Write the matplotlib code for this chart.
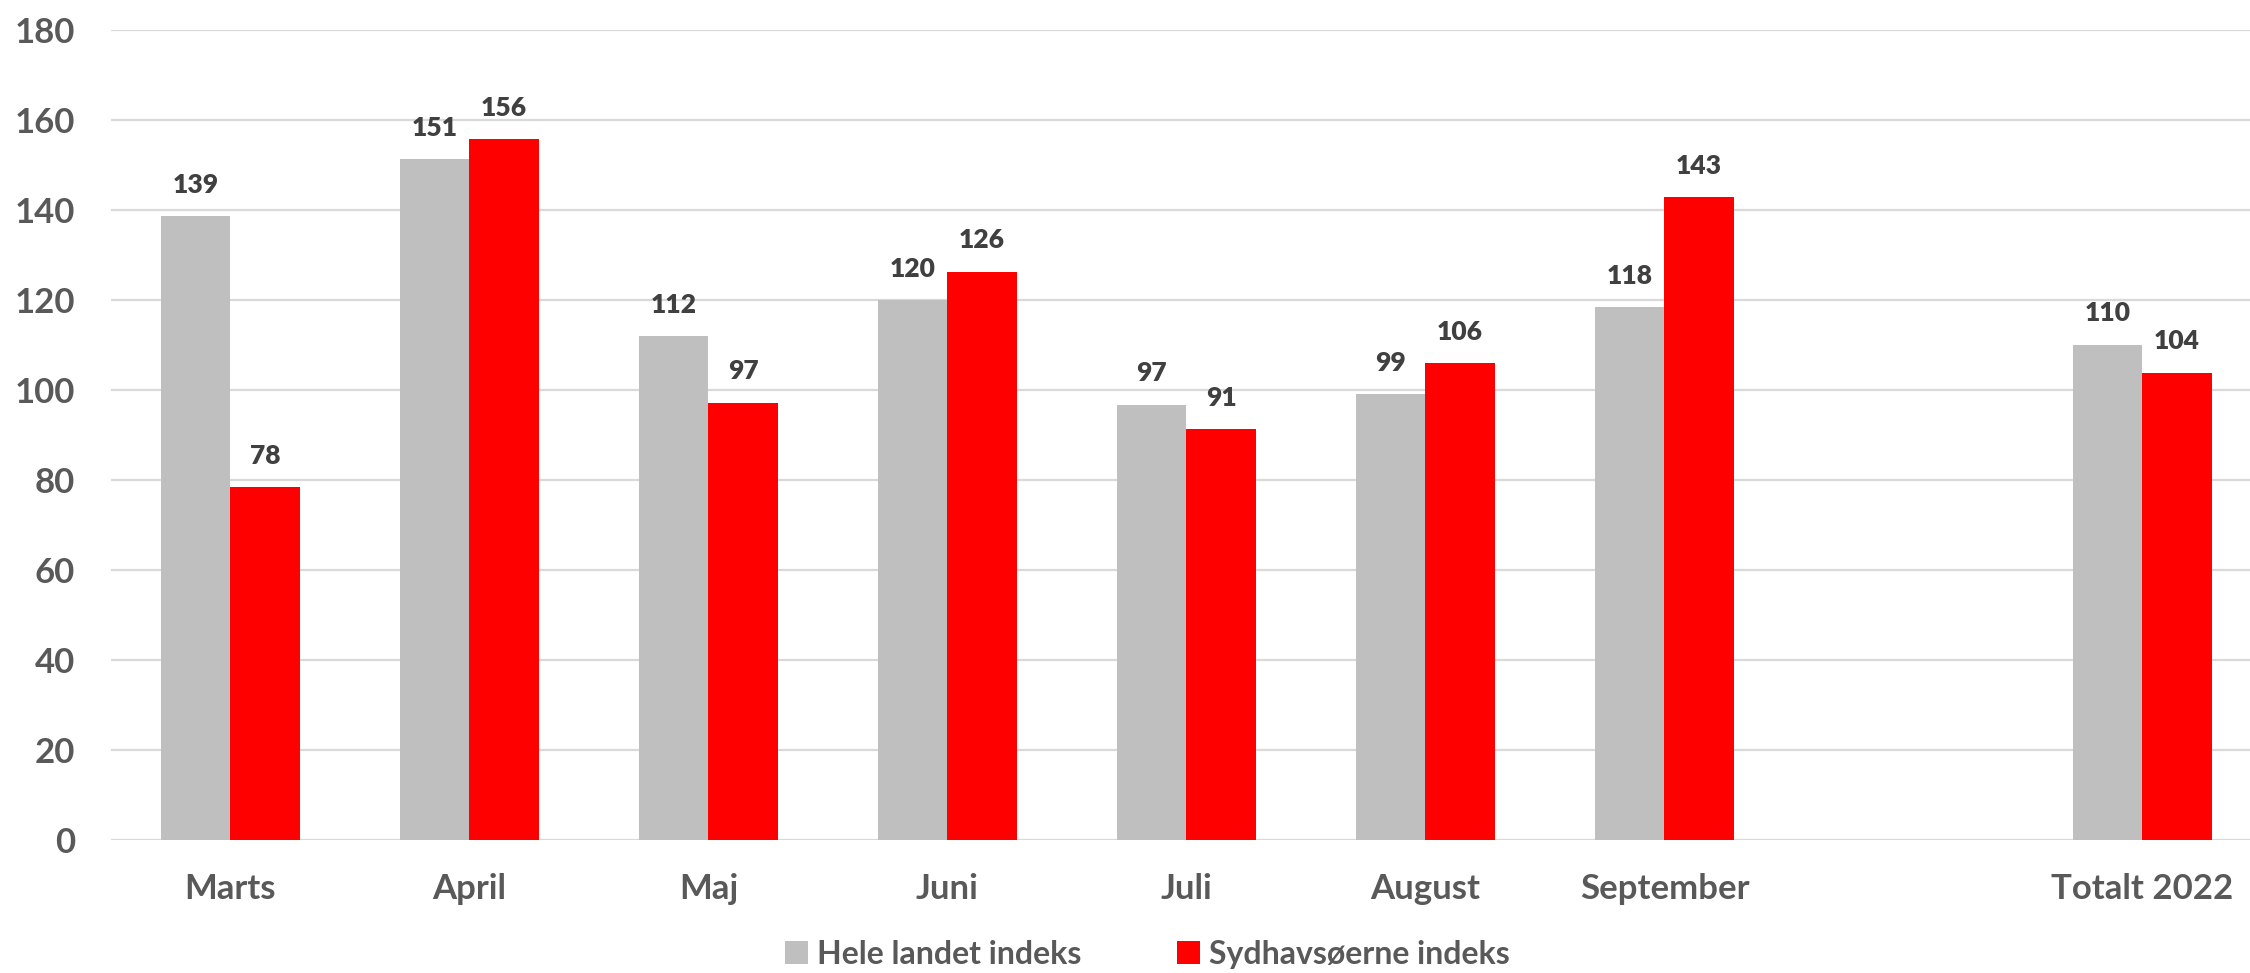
import matplotlib.pyplot as plt
import numpy as np

categories = ["Marts", "April", "Maj", "Juni", "Juli", "August", "September", "", "Totalt 2022"]
hele_landet = [138.6, 151.3, 112.0, 119.9, 96.7, 99.1, 118.4, np.nan, 110.1]
sydhavsoerne = [78.4, 155.7, 97.2, 126.3, 91.3, 105.9, 142.9, np.nan, 103.8]
series_names = ["Hele landet indeks", "Sydhavsøerne indeks"]
yticks = [0, 20, 40, 60, 80, 100, 120, 140, 160, 180]

plt.rcParams["font.family"] = ["Lato", "DejaVu Sans"]
plt.rcParams["font.weight"] = "bold"

fig = plt.figure(figsize=[22.5, 9.73], dpi=100)
ax = fig.add_axes([0.0493, 0.1367, 0.956, 0.8324])

x = np.arange(len(categories))
w = 0.29
b1 = ax.bar(x - w / 2, hele_landet, width=w, color="#bfbfbf", label=series_names[0], zorder=3)
b2 = ax.bar(x + w / 2, sydhavsoerne, width=w, color="#ff0000", label=series_names[1], zorder=3)

for bars, vals in [(b1, hele_landet), (b2, sydhavsoerne)]:
    for rect, v in zip(bars, vals):
        if np.isnan(v):
            continue
        ax.annotate(
            f"{round(v):d}",
            (rect.get_x() + rect.get_width() / 2, v),
            xytext=(0, 14),
            textcoords="offset points",
            ha="center",
            va="bottom",
            fontsize=19,
            fontweight="heavy",
            color="#404040",
        )

ax.set_xlim(-0.5, len(categories) - 0.5)
ax.set_ylim(0, 180)
ax.set_yticks(yticks)
ax.set_xticks(x)
ax.set_xticklabels(categories)
ax.tick_params(axis="both", length=0, labelsize=25, labelcolor="#595959")
ax.tick_params(axis="y", pad=26)
ax.tick_params(axis="x", pad=24)
ax.grid(axis="y", color="#d9d9d9", linewidth=1.6, zorder=0)
ax.spines[["right", "top", "bottom", "left"]].set_visible(False)

leg = ax.legend(
    loc="center",
    bbox_to_anchor=(0.482, -0.141),
    bbox_transform=ax.transAxes,
    ncol=2,
    frameon=False,
    fontsize=23,
    handlelength=0.7,
    handleheight=0.7,
    handletextpad=0.3,
    columnspacing=3.0,
)
for t in leg.get_texts():
    t.set_color("#595959")

fig.savefig("out.png", dpi=100)
plt.close(fig)
